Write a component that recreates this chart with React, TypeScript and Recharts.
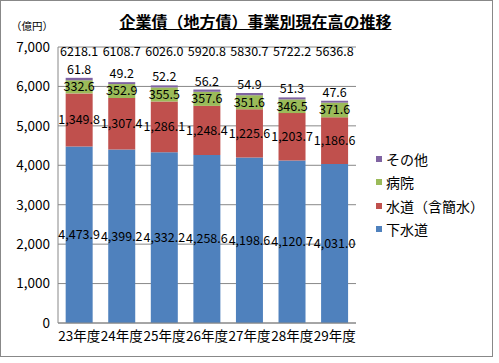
import { BarChart, Bar, XAxis, YAxis, CartesianGrid, LabelList } from 'recharts';

const YEARS = ['23年度', '24年度', '25年度', '26年度', '27年度', '28年度', '29年度'];
const SEWER = [4473.9, 4399.2, 4332.2, 4258.6, 4198.6, 4120.7, 4031.0];
const WATER = [1349.8, 1307.4, 1286.1, 1248.4, 1225.6, 1203.7, 1186.6];
const HOSPITAL = [332.6, 352.9, 355.5, 357.6, 351.6, 346.5, 371.6];
const OTHER = [61.8, 49.2, 52.2, 56.2, 54.9, 51.3, 47.6];
const TOTALS = [6218.1, 6108.7, 6026.0, 5920.8, 5830.7, 5722.2, 5636.8];
const Y_TICKS = [0, 1000, 2000, 3000, 4000, 5000, 6000, 7000];

const SERIES = [
    { key: 'sewer', name: '下水道', color: '#4F81BD' },
    { key: 'water', name: '水道（含簡水）', color: '#C0504D' },
    { key: 'hospital', name: '病院', color: '#9BBB59' },
    { key: 'other', name: 'その他', color: '#8064A2' },
];

const data = YEARS.map((name, i) => ({
    name,
    sewer: SEWER[i],
    water: WATER[i],
    hospital: HOSPITAL[i],
    other: OTHER[i],
    total: TOTALS[i],
}));

const FONT = '"Noto Sans CJK JP", "Noto Sans", sans-serif';
const LABEL_SIZE = 12.5;
const withComma = (v: any) => Number(v).toLocaleString('en-US', { minimumFractionDigits: 1, maximumFractionDigits: 1 });
const plain = (v: any) => Number(v).toFixed(1);

const TotalLabel = (props: any) => {
    const { x, width, index } = props;
    return (
        <text x={x + width / 2} y={55} textAnchor="middle" fontSize={LABEL_SIZE} fill="#000" fontFamily={FONT}>
            {TOTALS[index].toFixed(1)}
        </text>
    );
};

export default function App() {
    return (
        <div style={{ position: 'absolute', left: 0, top: 0, width: 491, height: 355, border: '1px solid #888', background: '#fff' }}>
            <div style={{ position: 'absolute', left: 0, width: 509, top: 8, textAlign: 'center', fontFamily: FONT, fontSize: 16, fontWeight: 'bold', textDecoration: 'underline', color: '#000' }}>
                企業債（地方債）事業別現在高の推移
            </div>
            <div style={{ position: 'absolute', left: 10, top: 17, fontFamily: FONT, fontSize: 10.5, color: '#000' }}>
                （億円）
            </div>
            <div style={{ position: 'absolute', left: 375, top: 146, fontFamily: FONT, fontSize: 14, color: '#000' }}>
                {[...SERIES].reverse().map((s) => (
                    <div key={s.key} style={{ display: 'flex', alignItems: 'center', height: 23.5 }}>
                        <span style={{ width: 6, height: 6, background: s.color, marginRight: 4, display: 'inline-block' }} />
                        {s.name}
                    </div>
                ))}
            </div>
            <BarChart
                width={491}
                height={355}
                data={data}
                margin={{ top: 46, right: 136, bottom: 0, left: 0 }}
                barCategoryGap="18%"
                style={{ fontFamily: FONT }}
            >
                <CartesianGrid vertical={false} stroke="#888" />
                <XAxis
                    dataKey="name"
                    tickLine={false}
                    axisLine={{ stroke: '#888' }}
                    tick={{ fontSize: 13.5, fill: '#000' }}
                    interval={0}
                    height={33}
                />
                <YAxis
                    ticks={Y_TICKS}
                    domain={[0, 7000]}
                    tickFormatter={(v) => v.toLocaleString('en-US')}
                    tickLine={false}
                    axisLine={{ stroke: '#888' }}
                    tick={{ fontSize: 13.5, fill: '#000' }}
                    width={57}
                />
                <Bar dataKey="sewer" stackId="a" fill={SERIES[0].color} isAnimationActive={false}>
                    <LabelList dataKey="sewer" position="center" formatter={withComma} fill="#000" fontSize={LABEL_SIZE} />
                </Bar>
                <Bar dataKey="water" stackId="a" fill={SERIES[1].color} isAnimationActive={false}>
                    <LabelList dataKey="water" position="center" formatter={withComma} fill="#000" fontSize={LABEL_SIZE} />
                </Bar>
                <Bar dataKey="hospital" stackId="a" fill={SERIES[2].color} isAnimationActive={false}>
                    <LabelList dataKey="hospital" position="center" formatter={plain} fill="#000" fontSize={LABEL_SIZE} />
                </Bar>
                <Bar dataKey="other" stackId="a" fill={SERIES[3].color} isAnimationActive={false}>
                    <LabelList dataKey="other" position="top" offset={4} formatter={plain} fill="#000" fontSize={LABEL_SIZE} />
                    <LabelList dataKey="total" content={<TotalLabel />} />
                </Bar>
            </BarChart>
        </div>
    );
}
